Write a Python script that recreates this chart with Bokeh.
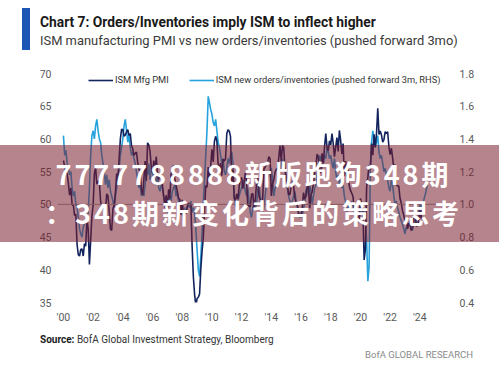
from bokeh.plotting import figure
from bokeh.models import (Range1d, LinearAxis, FixedTicker, Span, Legend, LegendItem, Div)
from bokeh.layouts import column
from bokeh.embed import file_html
from bokeh.resources import INLINE

# ---------------- data ----------------
start_year = 2000
ism_pmi = [
    56.7, 55.8, 54.9, 54.7, 53.2, 51.4, 52.5, 49.9, 49.9, 48.3, 48.5, 43.9,  # 2000
    42.3, 42.1, 43.1, 43.2, 42.1, 44.0, 43.6, 47.9, 46.2, 40.8, 44.5, 48.2,  # 2001
    49.9, 54.7, 55.6, 53.1, 53.5, 53.5, 50.5, 49.6, 49.8, 49.0, 49.2, 51.6,  # 2002
    51.3, 48.8, 46.2, 46.0, 49.4, 49.8, 51.8, 54.7, 53.7, 57.0, 60.0, 61.5,  # 2003
    61.4, 60.4, 60.6, 61.1, 61.4, 60.5, 60.8, 59.0, 58.5, 57.5, 57.8, 58.0,  # 2004
    56.4, 55.3, 55.2, 52.3, 51.4, 53.8, 56.6, 53.6, 59.4, 59.1, 58.1, 55.6,  # 2005
    54.8, 56.7, 55.2, 57.3, 54.4, 53.8, 54.7, 54.5, 52.9, 51.2, 49.5, 51.4,  # 2006
    49.3, 52.3, 50.9, 54.7, 55.0, 56.0, 53.8, 52.9, 52.0, 50.9, 50.8, 48.4,  # 2007
    50.7, 48.3, 48.6, 48.6, 49.6, 50.2, 50.0, 49.9, 43.5, 38.9, 36.2, 34.5,  # 2008
    35.6, 35.8, 36.3, 40.1, 42.8, 44.8, 48.9, 52.9, 52.6, 55.7, 53.6, 55.9,  # 2009
    58.4, 56.5, 59.6, 60.4, 59.7, 56.2, 55.5, 56.3, 54.4, 56.9, 56.6, 57.0,  # 2010
    60.8, 61.4, 61.2, 60.4, 53.5, 55.3, 50.9, 50.6, 51.6, 50.8, 52.7, 53.9,  # 2011
    54.1, 52.4, 53.4, 54.8, 53.5, 49.7, 49.8, 49.6, 51.5, 51.7, 49.5, 50.7,  # 2012
    53.1, 54.2, 51.3, 50.7, 49.0, 50.9, 55.4, 55.7, 56.2, 56.4, 57.3, 57.0,  # 2013
    51.3, 53.2, 53.7, 54.9, 55.4, 55.3, 57.1, 59.0, 56.6, 59.0, 58.7, 55.5,  # 2014
    53.5, 52.9, 51.5, 51.5, 52.8, 53.5, 52.7, 51.1, 50.2, 50.1, 48.6, 48.2,  # 2015
    48.2, 49.5, 51.8, 50.8, 51.3, 53.2, 52.6, 49.4, 51.5, 51.9, 53.2, 54.7,  # 2016
    56.0, 57.7, 57.2, 54.8, 54.9, 57.8, 56.3, 58.8, 60.8, 58.7, 58.2, 59.7,  # 2017
    59.1, 60.8, 59.3, 57.3, 58.7, 60.2, 58.1, 61.3, 59.8, 57.7, 59.3, 54.3,  # 2018
    56.6, 54.2, 55.3, 52.8, 52.1, 51.7, 51.2, 49.1, 47.8, 48.3, 48.1, 47.2,  # 2019
    50.9, 50.1, 49.1, 41.5, 43.1, 52.6, 54.2, 56.0, 55.4, 59.3, 57.5, 60.7,  # 2020
    58.7, 60.8, 64.7, 60.7, 61.2, 60.6, 59.5, 59.9, 61.1, 60.8, 61.1, 58.8,  # 2021
    57.6, 58.6, 57.1, 55.4, 56.1, 53.0, 52.8, 52.8, 50.9, 50.2, 49.0, 48.4,  # 2022
    47.4, 47.7, 46.3, 47.1, 46.9, 46.0, 46.4, 47.6, 49.0, 46.7, 46.7, 47.4,  # 2023
    49.1, 47.8, 50.3, 49.2,                                                  # 2024
]
orders_inventories = [
    1.42, 1.30, 1.33, 1.25, 1.22, 1.18, 1.20, 1.10, 1.05, 1.08, 1.00, 0.98,  # 2000
    0.92, 0.85, 0.82, 0.80, 0.86, 0.88, 0.90, 0.92, 0.95, 1.10, 1.30, 1.42,  # 2001
    1.45, 1.40, 1.48, 1.52, 1.45, 1.40, 1.38, 1.30, 1.25, 1.20, 1.12, 1.18,  # 2002
    1.10, 1.15, 1.08, 1.05, 1.02, 0.98, 1.05, 1.10, 1.18, 1.22, 1.30, 1.35,  # 2003
    1.40, 1.48, 1.52, 1.45, 1.38, 1.42, 1.35, 1.30, 1.32, 1.28, 1.25, 1.20,  # 2004
    1.15, 1.10, 1.12, 1.05, 1.08, 1.05, 1.12, 1.20, 1.18, 1.25, 1.15, 1.22,  # 2005
    1.20, 1.15, 1.18, 1.12, 1.20, 1.10, 1.08, 1.12, 1.10, 1.05, 1.02, 0.98,  # 2006
    0.95, 1.00, 1.05, 1.02, 1.08, 1.10, 1.12, 1.05, 1.08, 1.02, 1.00, 0.98,  # 2007
    0.96, 0.92, 0.98, 0.95, 0.98, 1.00, 0.98, 1.02, 0.95, 0.98, 0.95, 0.85,  # 2008
    0.72, 0.60, 0.56, 0.68, 0.82, 1.00, 1.15, 1.30, 1.45, 1.66, 1.62, 1.58,  # 2009
    1.55, 1.50, 1.48, 1.52, 1.45, 1.38, 1.35, 1.30, 1.25, 1.28, 1.20, 1.18,  # 2010
    1.22, 1.28, 1.25, 1.30, 1.32, 1.25, 1.05, 1.00, 0.98, 1.02, 1.05, 1.08,  # 2011
    1.10, 1.15, 1.12, 1.08, 1.05, 1.10, 1.02, 0.95, 0.92, 0.98, 1.02, 0.98,  # 2012
    1.00, 1.08, 1.12, 1.05, 1.02, 0.95, 0.98, 1.05, 1.12, 1.15, 1.18, 1.20,  # 2013
    1.22, 1.15, 1.05, 1.10, 1.12, 1.15, 1.18, 1.20, 1.25, 1.28, 1.20, 1.22,  # 2014
    1.18, 1.10, 1.05, 1.02, 1.00, 1.02, 1.05, 1.08, 1.02, 0.98, 0.95, 0.92,  # 2015
    0.95, 0.92, 0.98, 1.00, 1.08, 1.10, 1.05, 1.12, 1.08, 1.00, 1.05, 1.10,  # 2016
    1.12, 1.18, 1.25, 1.30, 1.28, 1.22, 1.25, 1.30, 1.28, 1.35, 1.32, 1.28,  # 2017
    1.30, 1.25, 1.22, 1.28, 1.20, 1.15, 1.18, 1.12, 1.15, 1.10, 1.12, 1.05,  # 2018
    1.02, 0.95, 1.00, 0.98, 1.00, 1.02, 0.98, 0.95, 0.92, 0.95, 0.90, 0.92,  # 2019
    0.98, 0.95, 1.00, 0.95, 0.92, 0.78, 0.53, 0.62, 1.22, 1.38, 1.45, 1.40,  # 2020
    1.35, 1.38, 1.42, 1.32, 1.28, 1.30, 1.25, 1.20, 1.22, 1.18, 1.15, 1.10,  # 2021
    1.08, 1.15, 1.12, 1.05, 1.00, 1.02, 0.98, 0.95, 0.92, 0.90, 0.88, 0.85,  # 2022
    0.82, 0.86, 0.85, 0.88, 0.90, 0.85, 0.84, 0.88, 0.92, 0.90, 0.88, 0.95,  # 2023
    1.00, 0.96, 0.98, 1.02, 1.05, 1.08, 1.12,                                # 2024
]
left_ticks = [35, 40, 45, 50, 55, 60, 65, 70]
right_ticks = [0.4, 0.6, 0.8, 1.0, 1.2, 1.4, 1.6, 1.8]
right_tick_labels = ["0.4", "0.6", "0.8", "1.0", "1.2", "1.4", "1.6", "1.8"]
x_ticks = [2000, 2002, 2004, 2006, 2008, 2010, 2012, 2014, 2016, 2018, 2020, 2022, 2024]
x_tick_labels = ["'00", "'02", "'04", "'06", "'08", "'10", "'12", "'14", "'16", "'18", "'20", "'22", "'24"]

title_text = "Chart 7: Orders/Inventories imply ISM to inflect higher"
subtitle_text = "ISM manufacturing PMI vs new orders/inventories (pushed forward 3mo)"
series_names = ["ISM Mfg PMI", "ISM new orders/inventories (pushed forward 3m, RHS)"]
source_bold = "Source:"
source_rest = "BofA Global Investment Strategy, Bloomberg"
brand_text = "BofA GLOBAL RESEARCH"
overlay_lines = ["7777788888新版跑狗348期", "：348期新变化背后的策略思考"]

# ---------------- sizes ----------------
W = 499
HEAD_H, PLOT_H, FOOT_H = 60, 272, 53
FL, FR = 57, 452            # frame left/right (page px)
FT, FB = 73, 302            # frame top/bottom (page px)
FONT = "Roboto"
DARK = "#13235e"
LIGHT = "#26a2dc"
GRAY = "#5a5a5a"

# ---------------- header ----------------
header = Div(width=W, height=HEAD_H, margin=0, text=f"""
<div style="position:relative;width:{W}px;height:{HEAD_H}px;font-family:Roboto;">
  <div style="position:absolute;left:22px;top:8px;width:8px;height:42px;background:#1d56b5;"></div>
  <div style="position:absolute;left:40px;top:13.5px;font-size:13.8px;font-weight:bold;color:#1a1a1a;white-space:nowrap;line-height:17px;">{title_text}</div>
  <div style="position:absolute;left:40px;top:32px;font-size:12.9px;color:#3a3a3a;white-space:nowrap;line-height:17px;">{subtitle_text}</div>
</div>""")

# ---------------- chart ----------------
ism_x = [start_year + i / 12 for i in range(len(ism_pmi))]
ratio_x = [start_year + i / 12 for i in range(len(orders_inventories))]

p = figure(width=W, height=PLOT_H, output_backend="svg", toolbar_location=None,
           x_range=Range1d(1999.6, 2026.2), y_range=Range1d(35, 70),
           min_border_left=FL, min_border_right=W - FR,
           min_border_top=FT - HEAD_H, min_border_bottom=HEAD_H + PLOT_H - FB, margin=0)
p.extra_y_ranges = {"ratio": Range1d(0.4, 1.8)}
p.outline_line_color = None
p.background_fill_color = "white"
p.border_fill_color = "white"
p.xgrid.visible = False
p.ygrid.visible = False

def style_axis(ax):
    ax.axis_line_color = None
    ax.major_tick_line_color = None
    ax.minor_tick_line_color = None
    ax.major_label_text_font = FONT
    ax.major_label_text_font_size = "10.5px"
    ax.major_label_text_color = GRAY

p.yaxis.ticker = FixedTicker(ticks=left_ticks)
style_axis(p.yaxis[0])
p.yaxis.major_label_standoff = 0

raxis = LinearAxis(y_range_name="ratio", ticker=FixedTicker(ticks=right_ticks),
                   major_label_overrides={t: s for t, s in zip(right_ticks, right_tick_labels)})
style_axis(raxis)
raxis.major_label_standoff = 1
p.add_layout(raxis, "right")

p.xaxis.ticker = FixedTicker(ticks=x_ticks)
p.xaxis.major_label_overrides = {t: s for t, s in zip(x_ticks, x_tick_labels)}
style_axis(p.xaxis[0])
p.xaxis.major_label_standoff = 2

p.add_layout(Span(location=50, dimension="width", line_color="#9a9a9a", line_width=1))

r_light = p.line(ratio_x, orders_inventories, y_range_name="ratio",
                 line_color=LIGHT, line_width=1.6)
r_dark = p.line(ism_x, ism_pmi, line_color=DARK, line_width=1.6)

legend = Legend(items=[LegendItem(label=series_names[0], renderers=[r_dark]),
                       LegendItem(label=series_names[1], renderers=[r_light])],
                orientation="horizontal", location=(31, 217),
                background_fill_alpha=0, border_line_color=None,
                glyph_width=25, glyph_height=10, label_standoff=2, spacing=20,
                label_text_font=FONT, label_text_font_size="9.3px",
                label_text_color="#333333", padding=0, margin=0)
p.add_layout(legend, "center")

# ---------------- footer ----------------
footer = Div(width=W, height=FOOT_H, margin=0, text=f"""
<div style="position:relative;width:{W}px;height:{FOOT_H}px;font-family:Roboto;">
  <div style="position:absolute;left:40px;top:2px;font-size:10px;color:#333;white-space:nowrap;line-height:12px;"><b style="color:#1a1a1a">{source_bold}</b> {source_rest}</div>
  <div style="position:absolute;right:26px;top:17px;font-size:9.5px;color:#8a8a8a;white-space:nowrap;line-height:12px;">{brand_text}</div>
</div>""")

# ---------------- overlay band ----------------
overlay = Div(width=W, height=97, margin=0,
              styles={"position": "absolute", "left": "0px", "top": "145px", "z-index": "10"},
              text=f"""
<div style="width:{W}px;height:97px;background:rgba(122,31,48,0.55);box-sizing:border-box;padding-top:9px;padding-left:8px;
 text-align:center;color:white;font-family:'Noto Sans CJK SC';font-weight:bold;font-size:27px;
 letter-spacing:3px;line-height:39px;">{overlay_lines[0]}<br>{overlay_lines[1]}</div>""")

layout = column(header, p, footer, overlay, spacing=0, margin=0)
open("out.html", "w").write(file_html(layout, INLINE))
